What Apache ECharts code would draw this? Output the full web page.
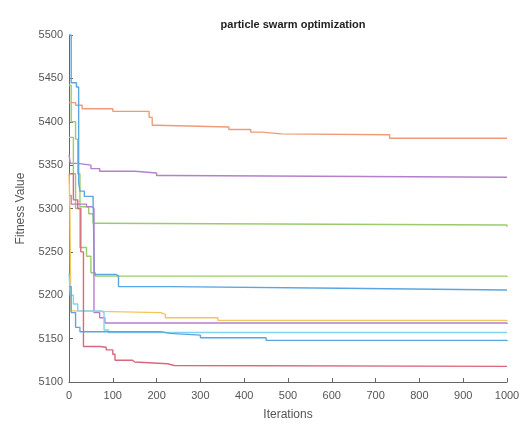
<!DOCTYPE html>
<html>
<head>
<meta charset="utf-8">
<script src="https://cdn.jsdelivr.net/npm/echarts@6/dist/echarts.min.js"></script>
<style>
  html, body { margin: 0; padding: 0; background: #fff; }
  #chart { width: 526px; height: 426px; }
</style>
</head>
<body>
<div id="chart"></div>
<script>
  // x ticks / y ticks
  var xTicks = [0, 100, 200, 300, 400, 500, 600, 700, 800, 900, 1000];
  var yTicks = [5100, 5150, 5200, 5250, 5300, 5350, 5400, 5450, 5500];

  // each run: [iteration, best fitness] at every level change
  var runOrange = [[0,5422],[15,5419],[30,5415],[100,5412],[183,5405],[190,5396],[200,5394],[365,5391],[415,5388],[440,5386],[485,5385],[732,5381],[1000,5381]];
  var runPurpleA = [[0,5362],[3,5352],[20,5350],[50,5346],[70,5343],[150,5341],[200,5338],[235,5336],[1000,5336]];
  var runGreenA = [[0,5442],[5,5400],[15,5380],[20,5340],[25,5302],[45,5294],[55,5283],[70,5281],[1000,5279]];
  var runGreenB = [[0,5382],[10,5340],[15,5300],[25,5255],[40,5245],[50,5226],[60,5222],[1000,5221]];
  var runBlueA = [[0,5500],[5,5445],[17,5440],[22,5330],[25,5320],[35,5314],[55,5310],[58,5224],[108,5222],[113,5210],[230,5208],[620,5206],[1000,5206]];
  var runPurpleB = [[0,5315],[5,5305],[40,5302],[52,5300],[57,5180],[70,5174],[82,5168],[1000,5167]];
  var runYellow = [[0,5340],[2,5300],[4,5182],[10,5180],[210,5178],[220,5174],[340,5171],[1000,5170]];
  var runLightBlue = [[0,5225],[3,5200],[10,5190],[20,5182],[75,5180],[80,5160],[90,5157],[1000,5157]];
  var runBlueB = [[0,5210],[5,5180],[15,5163],[25,5158],[210,5156],[230,5154],[300,5151],[450,5148],[1000,5147]];
  var runRed = [[0,5340],[10,5310],[20,5300],[27,5250],[33,5141],[70,5140],[85,5137],[100,5132],[105,5125],[145,5123],[150,5121],[225,5119],[240,5118],[1000,5118]];

  var runs = [
    { data: runOrange, color: '#f09b78' },
    { data: runPurpleA, color: '#b57fcb' },
    { data: runGreenA, color: '#9bcb6c' },
    { data: runGreenB, color: '#9bcb6c' },
    { data: runBlueA, color: '#5aa6e2' },
    { data: runPurpleB, color: '#b57fcb' },
    { data: runYellow, color: '#f2c65c' },
    { data: runLightBlue, color: '#84d2f2' },
    { data: runBlueB, color: '#5aa6e2' },
    { data: runRed, color: '#d9687c' }
  ];

  var myChart = echarts.init(document.getElementById('chart'));
  var font = 'Liberation Sans, Arial, sans-serif';

  var option = {
    animation: false,
    backgroundColor: '#fff',
    title: {
      text: 'particle swarm optimization',
      left: 288,
      textAlign: 'center',
      top: 14,
      textStyle: { fontFamily: font, fontSize: 11, fontWeight: 'bold', color: '#222' }
    },
    grid: { left: 69, right: 19, top: 35, bottom: 41 },
    xAxis: {
      type: 'value',
      min: xTicks[0],
      max: xTicks[xTicks.length - 1],
      interval: 100,
      name: 'Iterations',
      nameLocation: 'middle',
      nameGap: 27,
      nameTextStyle: { fontFamily: font, fontSize: 12, color: '#555' },
      axisLine: { lineStyle: { color: '#666', width: 1 } },
      axisTick: { inside: true, length: 4, lineStyle: { color: '#666' } },
      axisLabel: { fontFamily: font, fontSize: 11, color: '#555', margin: 8, formatter: function (v) { return String(v); } },
      splitLine: { show: false }
    },
    yAxis: {
      type: 'value',
      min: yTicks[0],
      max: yTicks[yTicks.length - 1],
      interval: 50,
      name: 'Fitness Value',
      nameLocation: 'middle',
      nameGap: 42,
      nameTextStyle: { fontFamily: font, fontSize: 12, color: '#555' },
      axisLine: { show: true, lineStyle: { color: '#666', width: 1 } },
      axisTick: { show: true, inside: true, length: 4, lineStyle: { color: '#666' } },
      axisLabel: { fontFamily: font, fontSize: 11, color: '#555', margin: 6, formatter: function (v) { return String(v); } },
      splitLine: { show: false }
    },
    series: runs.map(function (r) {
      return {
        type: 'line',
        step: 'end',
        data: r.data,
        showSymbol: false,
        lineStyle: { color: r.color, width: 1.4 },
        itemStyle: { color: r.color }
      };
    })
  };

  myChart.setOption(option);
</script>
</body>
</html>
